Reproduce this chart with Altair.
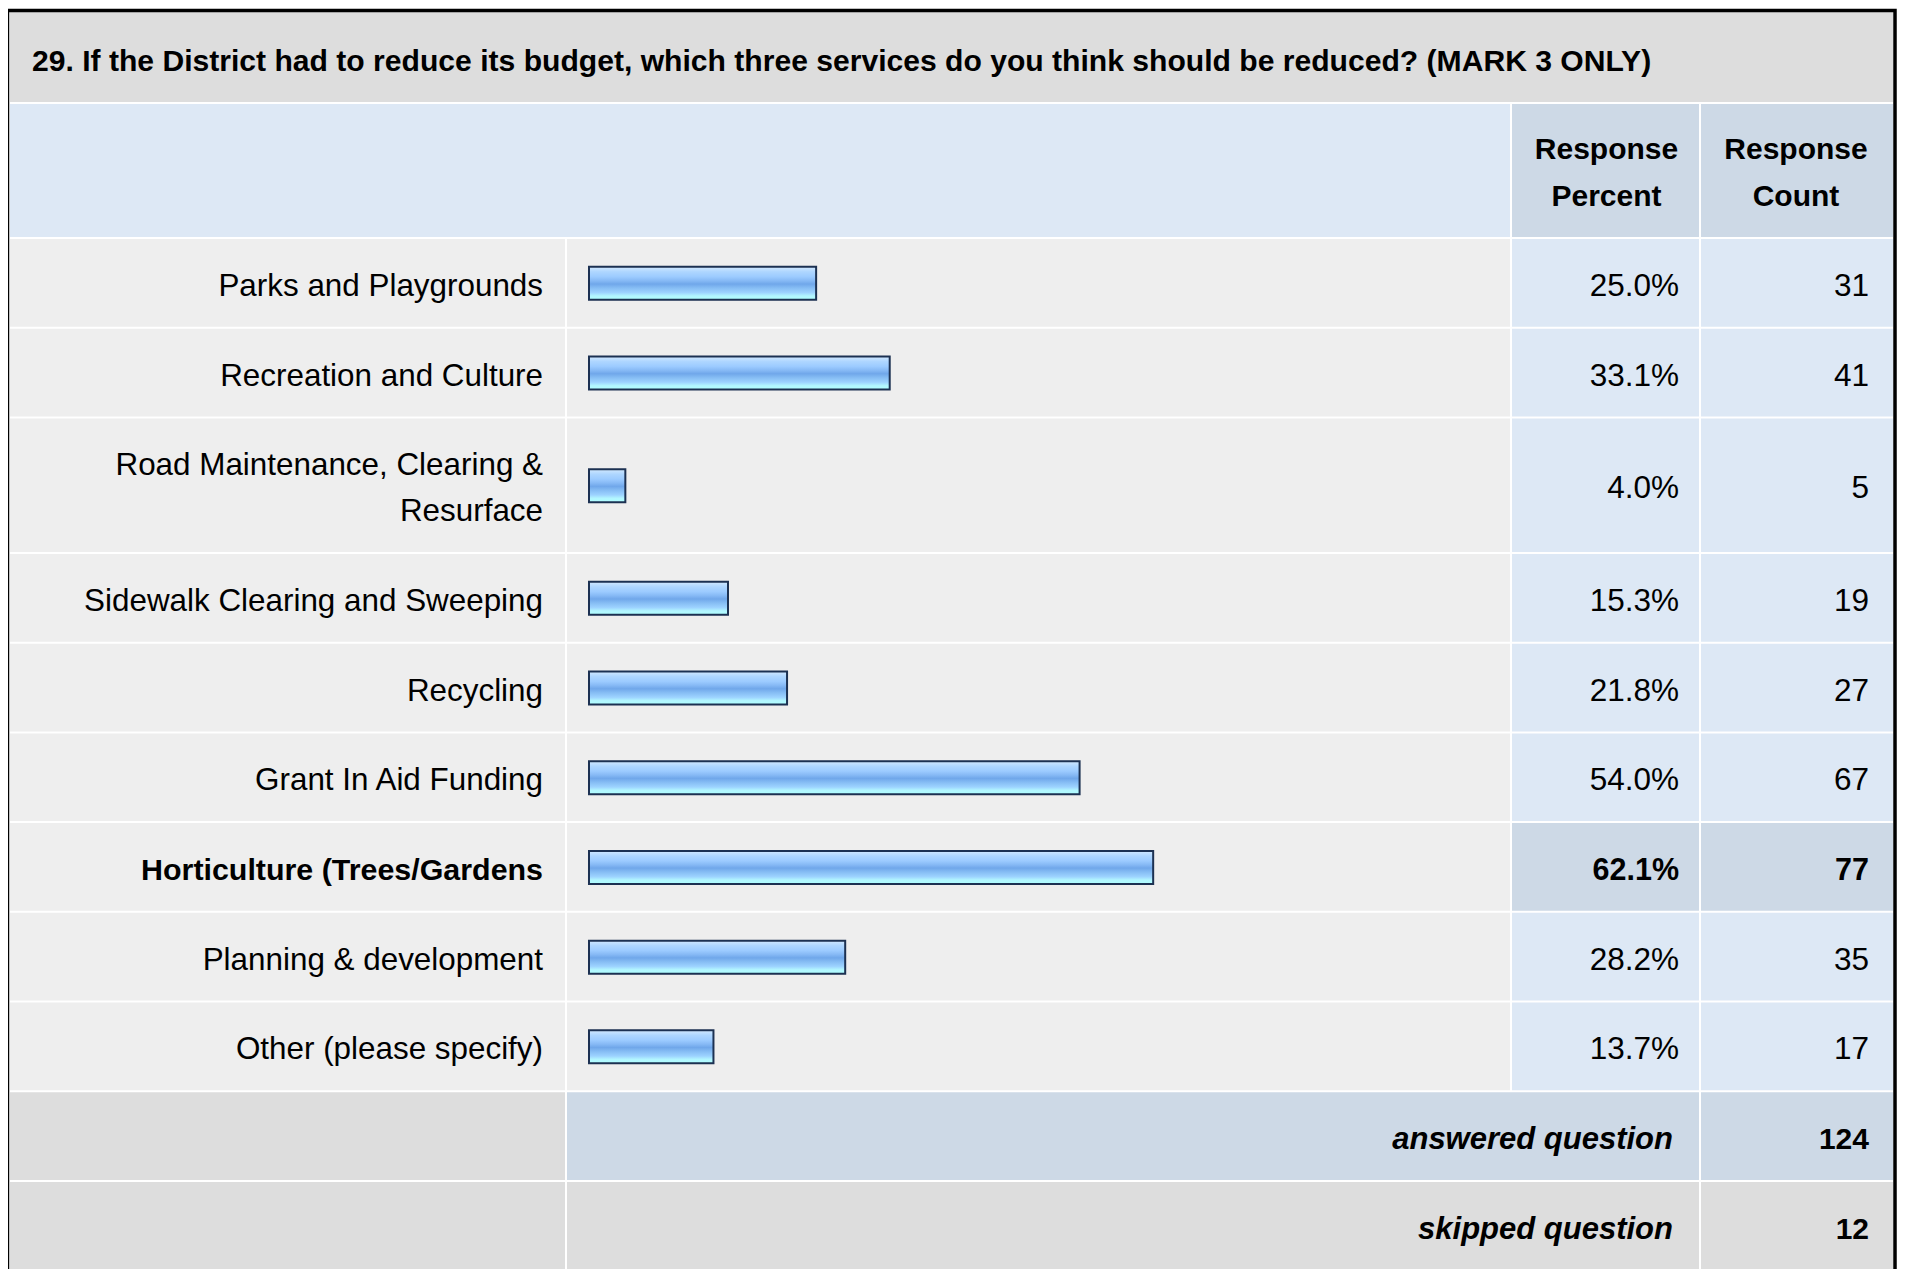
import textwrap
import altair as alt
import pandas as pd

# ---------------- data ----------------
title = ("29. If the District had to reduce its budget, which three services "
         "do you think should be reduced? (MARK 3 ONLY)")
categories = [
    "Parks and Playgrounds",
    "Recreation and Culture",
    "Road Maintenance, Clearing & Resurface",
    "Sidewalk Clearing and Sweeping",
    "Recycling",
    "Grant In Aid Funding",
    "Horticulture (Trees/Gardens",
    "Planning & development",
    "Other (please specify)",
]
percents = [25.0, 33.1, 4.0, 15.3, 21.8, 54.0, 62.1, 28.2, 13.7]
counts = [31, 41, 5, 19, 27, 67, 77, 35, 17]
header_percent = ["Response", "Percent"]
header_count = ["Response", "Count"]
summary_labels = ["answered question", "skipped question"]
summary_values = [124, 12]

# ---------------- layout (page pixels) ----------------
OX, OY = 12, 12            # page position of the view origin (8px margin + 4px padding)
W, H = 1887, 1257
COL_LABEL = (10, 565)
COL_BAR = (567, 1510)
COL_PCT = (1512, 1699)
COL_CNT = (1701, 1893)
TITLE_Y = (12, 102)
HEADER_Y = (104, 237)
ROW_TOP0 = 237
ROW_PITCH = 89.7
LINE_H = 46
GAP = 2

C_TITLE = "#dddddd"
C_ROW = "#eeeeee"
C_VAL = "#dde8f5"
C_HI = "#cdd9e6"

PX = alt.Scale(domain=[OX, OX + W], range=[0, W], nice=False, zero=False)
PY = alt.Scale(domain=[OY, OY + H], range=[0, H], nice=False, zero=False)

cells = []
texts = []
bars = []


def cell(c, y0, y1, fill):
    cells.append({"x0": c[0], "x1": c[1], "y0": y0, "y1": y1, "fill": fill})


def txt(x, y, s, style):
    texts.append({"tx": x, "ty": y, "text": s, "style": style})


# title row
cell((COL_LABEL[0], COL_CNT[1]), TITLE_Y[0], TITLE_Y[1], C_TITLE)
txt(32, (TITLE_Y[0] + TITLE_Y[1]) / 2 + 14, title, "title")

# header row
cell((COL_LABEL[0], COL_BAR[1]), HEADER_Y[0], HEADER_Y[1], C_VAL)
cell(COL_PCT, HEADER_Y[0], HEADER_Y[1], C_HI)
cell(COL_CNT, HEADER_Y[0], HEADER_Y[1], C_HI)
hc = (HEADER_Y[0] + HEADER_Y[1]) / 2 + 12
for i, (a, b) in enumerate(zip(header_percent, header_count)):
    dy = (i - 0.5) * 46.5
    txt((COL_PCT[0] + COL_PCT[1]) / 2 + 1, hc + dy, a, "head")
    txt((COL_CNT[0] + COL_CNT[1]) / 2 - 1, hc + dy, b, "head")

# data rows
top = ROW_TOP0
max_count = max(counts)
for cat, p, n in zip(categories, percents, counts):
    lines = textwrap.wrap(cat, 32)
    pitch = ROW_PITCH + (len(lines) - 1) * (LINE_H - 0.1)
    y0, y1 = top + GAP, top + pitch
    hi = n == max_count
    cell(COL_LABEL, y0, y1, C_ROW)
    cell(COL_BAR, y0, y1, C_ROW)
    cell(COL_PCT, y0, y1, C_HI if hi else C_VAL)
    cell(COL_CNT, y0, y1, C_HI if hi else C_VAL)
    yc = (y0 + y1) / 2
    base = yc + 13
    for k, ln in enumerate(lines):
        txt(COL_LABEL[1] - 22, base + (k - (len(lines) - 1) / 2) * LINE_H, ln,
            "labelb" if hi else "label")
    txt(COL_PCT[1] - 20, base, f"{p:.1f}%", "valb" if hi else "val")
    txt(COL_CNT[1] - 24, base, f"{n}", "valb" if hi else "val")
    bars.append({"pct": p, "b0": yc - 16, "b1": yc + 17})
    top += pitch

# summary rows
for k, (lab, v) in enumerate(zip(summary_labels, summary_values)):
    y0, y1 = top + GAP, top + ROW_PITCH
    mid = C_HI if k == 0 else C_TITLE
    cell(COL_LABEL, y0, y1, C_TITLE)
    cell((COL_BAR[0], COL_PCT[1]), y0, y1, mid)
    cell(COL_CNT, y0, y1, mid)
    base = (y0 + y1) / 2 + 13
    txt(COL_PCT[1] - 26, base, lab, "sumlab")
    txt(COL_CNT[1] - 24, base, f"{v}", "sumval")
    top += ROW_PITCH

cells_df = pd.DataFrame(cells)
texts_df = pd.DataFrame(texts)
bars_df = pd.DataFrame(bars)
frame_df = pd.DataFrame([{"x0": 7.5, "x1": 1895, "y0": 10.5, "y1": 1400}])

FONT = "Liberation Sans"

cell_layer = alt.Chart(cells_df).mark_rect().encode(
    x=alt.X("x0:Q", scale=PX, axis=None),
    x2="x1:Q",
    y=alt.Y("y0:Q", scale=PY, axis=None),
    y2="y1:Q",
    color=alt.Color("fill:N", scale=None),
)

grad = alt.LinearGradient(
    gradient="linear",
    stops=[
        alt.GradientStop(color="#d2e9ff", offset=0.0),
        alt.GradientStop(color="#aed6ff", offset=0.15),
        alt.GradientStop(color="#9ccbff", offset=0.3),
        alt.GradientStop(color="#86b9f5", offset=0.42),
        alt.GradientStop(color="#70a7ea", offset=0.52),
        alt.GradientStop(color="#86bdf4", offset=0.64),
        alt.GradientStop(color="#9dd3ff", offset=0.78),
        alt.GradientStop(color="#b2f6ff", offset=0.88),
        alt.GradientStop(color="#b0ffff", offset=1.0),
    ],
    x1=0, x2=0, y1=0, y2=1,
)

bar_layer = alt.Chart(bars_df).mark_bar(
    color=grad, stroke="#1c3152", strokeWidth=2, cornerRadius=0
).encode(
    x=alt.X("pct:Q", scale=alt.Scale(domain=[0, 100], range=[577, 1485.5],
                                     nice=False, zero=True), axis=None),
    x2=alt.value(577),
    y=alt.Y("b0:Q", scale=PY, axis=None),
    y2="b1:Q",
)

styles = {
    "title": dict(align="left", fontSize=30.1, fontWeight="bold"),
    "head": dict(align="center", fontSize=30, fontWeight="bold"),
    "label": dict(align="right", fontSize=31.4, fontWeight="normal"),
    "labelb": dict(align="right", fontSize=30.4, fontWeight="bold"),
    "val": dict(align="right", fontSize=31.5, fontWeight="normal"),
    "valb": dict(align="right", fontSize=30.5, fontWeight="bold"),
    "sumlab": dict(align="right", fontSize=31, fontWeight="bold", fontStyle="italic"),
    "sumval": dict(align="right", fontSize=30, fontWeight="bold"),
}

text_layers = []
for name, st in styles.items():
    sub = texts_df[texts_df["style"] == name]
    if sub.empty:
        continue
    text_layers.append(
        alt.Chart(sub).mark_text(baseline="alphabetic", font=FONT, color="#000000", **st)
        .encode(
            x=alt.X("tx:Q", scale=PX, axis=None),
            y=alt.Y("ty:Q", scale=PY, axis=None),
            text="text:N",
        )
    )

frame_layer = alt.Chart(frame_df).mark_rect(
    fill=None, fillOpacity=0, stroke="#000000", strokeWidth=3.5
).encode(
    x=alt.X("x0:Q", scale=PX, axis=None),
    x2="x1:Q",
    y=alt.Y("y0:Q", scale=PY, axis=None),
    y2="y1:Q",
)

chart = (
    alt.layer(cell_layer, bar_layer, *text_layers, frame_layer)
    .resolve_scale(x="independent", y="independent")
    .properties(
        width=W,
        height=H,
        padding={"left": 4, "top": 4, "right": 0, "bottom": 0},
        autosize=alt.AutoSizeParams(type="none"),
        background="#ffffff",
    )
    .configure_view(stroke=None)
)

chart.save("out.html", embed_options={"renderer": "svg", "actions": False})
